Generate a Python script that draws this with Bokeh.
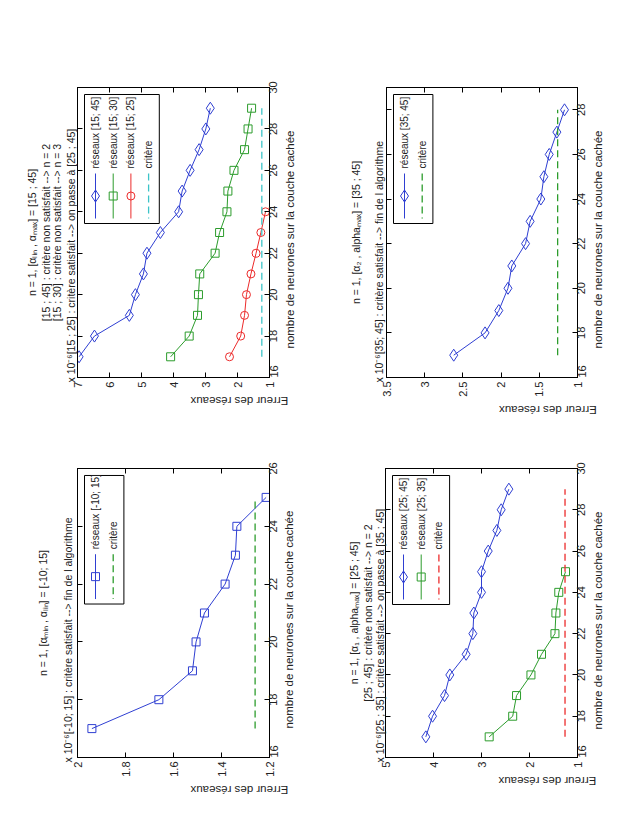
import math

from bokeh.plotting import figure
from bokeh.models import Range1d, LinearAxis, FixedTicker, Label, Title
from bokeh.layouts import column, row
from bokeh.embed import file_html
from bokeh.resources import INLINE

FONT = "Liberation Sans"
INK = "#222222"
BLUE = "#2f3fd2"
GREEN = "#2c9c2c"
RED = "#ec2b2b"
CYAN = "#3cc4c8"

# ---------------------------------------------------------------
# Network error (x 1e-6) against the number of hidden neurons
# ---------------------------------------------------------------
# [15 ; 45] search, n = 1
neur_15_45 = [17, 18, 19, 20, 21, 22, 23, 24, 25, 26, 27, 28, 29]
err_15_45 = [6.95, 6.47, 5.38, 5.19, 4.94, 4.83, 4.41, 3.84, 3.73, 3.48, 3.20, 2.99, 2.85]
neur_15_30 = [17, 18, 19, 20, 21, 22, 23, 24, 25, 26, 27, 28, 29]
err_15_30 = [4.09, 3.51, 3.25, 3.22, 3.18, 2.70, 2.56, 2.33, 2.30, 2.11, 1.78, 1.67, 1.56]
neur_15_25 = [17, 18, 19, 20, 21, 22, 23, 24]
err_15_25 = [2.25, 1.90, 1.78, 1.72, 1.58, 1.42, 1.27, 1.125]
crit_neur_a = [17, 29]
crit_err_a = [1.24, 1.24]

# [35 ; 45] search
neur_35_45 = [17, 18, 19, 20, 21, 22, 23, 24, 25, 26, 27, 28]
err_35_45 = [2.62, 2.21, 2.03, 1.91, 1.86, 1.68, 1.62, 1.48, 1.44, 1.37, 1.27, 1.17]
crit_neur_b = [17, 28]
crit_err_b = [1.26, 1.26]

# [-10 ; 15] search
neur_m10_15 = [17, 18, 19, 20, 21, 22, 23, 24, 25]
err_m10_15 = [1.94, 1.661, 1.521, 1.506, 1.471, 1.385, 1.342, 1.336, 1.214]
crit_neur_c = [17, 25]
crit_err_c = [1.26, 1.26]

# [25 ; 45] search
neur_25_45 = [17, 18, 19, 20, 21, 22, 23, 24, 25, 26, 27, 28, 29]
err_25_45 = [4.16, 4.02, 3.77, 3.66, 3.32, 3.18, 3.16, 3.00, 3.00, 2.86, 2.68, 2.59, 2.43]
neur_25_35 = [17, 18, 19, 20, 21, 22, 23, 24, 25]
err_25_35 = [2.84, 2.35, 2.27, 1.97, 1.75, 1.47, 1.45, 1.39, 1.25]
crit_neur_d = [17, 29]
crit_err_d = [1.26, 1.26]

# tick values and their printed labels
err_ticks_a = [1, 2, 3, 4, 5, 6, 7]
err_labels_a = ["1", "2", "3", "4", "5", "6", "7"]
neur_ticks_a = [16, 18, 20, 22, 24, 26, 28, 30]
neur_labels_a = ["16", "18", "20", "22", "24", "26", "28", "30"]

err_ticks_b = [1, 1.5, 2, 2.5, 3, 3.5]
err_labels_b = ["1", "1.5", "2", "2.5", "3", "3.5"]
neur_ticks_b = [16, 18, 20, 22, 24, 26, 28]
neur_labels_b = ["16", "18", "20", "22", "24", "26", "28"]

err_ticks_c = [1.2, 1.4, 1.6, 1.8, 2]
err_labels_c = ["1.2", "1.4", "1.6", "1.8", "2"]
neur_ticks_c = [16, 18, 20, 22, 24, 26]
neur_labels_c = ["16", "18", "20", "22", "24", "26"]

err_ticks_d = [1, 2, 3, 4, 5]
err_labels_d = ["1", "2", "3", "4", "5"]
neur_ticks_d = [16, 18, 20, 22, 24, 26, 28, 30]
neur_labels_d = ["16", "18", "20", "22", "24", "26", "28", "30"]

ERR_LABEL = "Erreur des réseaux"
NEUR_LABEL = "nombre de neurones sur la couche cachée"
EXPONENT = "x 10⁻⁶"

# The sheet is laid out sideways: the error axis runs right-to-left along the
# bottom, the neuron axis runs bottom-to-top on the right, and every text is
# turned a quarter turn.
Q = math.pi / 2


def tick_axis(ax, ticks, labels):
    ax.ticker = FixedTicker(ticks=ticks)
    ax.major_tick_in = 5
    ax.major_tick_out = 0
    ax.minor_tick_in = 0
    ax.minor_tick_out = 0
    ax.axis_line_color = "black"
    ax.major_tick_line_color = "black"
    ax.major_label_orientation = Q
    ax.major_label_text_font = FONT
    ax.major_label_text_font_size = "11px"
    if labels is None:
        # tick marks only
        ax.major_label_overrides = {t: "" for t in ticks}
        ax.major_label_text_color = None
        ax.major_label_standoff = 0
    else:
        ax.major_label_overrides = {t: s for t, s in zip(ticks, labels)}
        ax.major_label_text_color = INK
        ax.major_label_standoff = 4


def text_axis(values, texts, angle, standoff, size):
    # an axis without line or marks that only carries turned texts
    ax = LinearAxis(ticker=FixedTicker(ticks=values))
    ax.major_label_overrides = {v: t for v, t in zip(values, texts)}
    ax.major_label_orientation = angle
    ax.major_label_standoff = standoff
    ax.major_label_text_font = FONT
    ax.major_label_text_font_size = size
    ax.major_label_text_color = INK
    ax.axis_line_color = None
    ax.major_tick_line_color = None
    ax.minor_tick_line_color = None
    ax.major_tick_in = 0
    ax.major_tick_out = 0
    ax.minor_tick_in = 0
    ax.minor_tick_out = 0
    return ax


def make_panel(cfg):
    fw, fh = cfg["frame"]
    ml, mt = cfg["margin_left"], cfg["margin_top"]
    mr, mb = cfg["margin_right"], cfg["margin_bottom"]
    p = figure(
        width=ml + fw + mr, height=mt + fh + mb,
        x_range=Range1d(*cfg["err_range"]), y_range=Range1d(*cfg["neur_range"]),
        y_axis_location="right", x_axis_location="below",
        output_backend="svg", toolbar_location=None,
        min_border_left=ml, min_border_right=mr,
        min_border_top=mt, min_border_bottom=mb,
    )
    p.outline_line_color = "black"
    p.outline_line_width = 1
    p.grid.visible = False
    p.background_fill_color = "white"
    p.border_fill_color = "white"

    err_t, err_l = cfg["err_ticks"]
    neur_t, neur_l = cfg["neur_ticks"]
    x0, x1 = cfg["err_range"]
    y0, y1 = cfg["neur_range"]
    per_px_y = (y1 - y0) / fh

    def at(dx, dy):
        # offset in pixels from the frame's top-left corner -> data coords
        return x0 + dx * (x1 - x0) / fw, y1 - dy * per_px_y

    tick_axis(p.xaxis[0], err_t, err_l)
    tick_axis(p.yaxis[0], neur_t, None)

    top = LinearAxis()
    tick_axis(top, err_t, None)
    p.add_layout(top, "above")
    left = LinearAxis()
    tick_axis(left, neur_t, None)
    p.add_layout(left, "left")

    # neuron tick numbers: turned texts start at their anchor, so each anchor
    # sits half a label length below its tick (never below the axis start)
    half = 6.1 * per_px_y
    anchors = [max(t - half, y0) for t in neur_t]
    p.add_layout(text_axis(anchors, neur_l, Q, 4, "11px"), "right")
    # neuron caption, reading upward from its anchor
    _, cy = at(0, 261)
    p.add_layout(text_axis([cy], [NEUR_LABEL], Q, 5, "11.5px"), "right")
    # error caption, upside down
    cx, _ = at(fw / 2 + 17, 0)
    p.add_layout(text_axis([cx], [ERR_LABEL], math.pi, 10, "11.5px"), "below")

    # title lines stacked outward from the frame's left edge
    lines = cfg["title"]
    gaps = cfg["title_gaps"]
    for i in range(len(lines) - 1, -1, -1):
        s = lines[i]
        align = "center"
        offset = 0
        if i == len(lines) - 1:
            s = EXPONENT + s
            align = "left"
            offset = -5
        p.add_layout(Title(text=s, align=align, offset=offset, standoff=gaps[i],
                           text_font=FONT, text_font_size="10.5px",
                           text_font_style="normal", text_color=INK), "left")

    # data series
    for s in cfg["series"]:
        p.line(s["err"], s["neur"], line_color=s["color"], line_width=1)
        p.scatter(s["err"], s["neur"], marker=s["marker"], size=s["size"],
                  line_color=s["color"], fill_color=None, line_width=1)
    cn, ce, cc = cfg["crit"]
    p.line(ce, cn, line_color=cc, line_width=1.3, line_dash="7 4")

    # legend box, entries stacked left to right
    n = len(cfg["series"]) + 1
    bx0, by0 = at(7, 7)
    bx1, by1 = at(7 + 17.7 * n + 4, 136)
    p.quad(left=[bx0], right=[bx1], top=[by0], bottom=[by1],
           fill_color="white", line_color="black", line_width=1)
    entries = [(s["color"], s["marker"], s["size"], s["label"], None) for s in cfg["series"]]
    entries.append((cc, None, 0, "critère", "7 4"))
    for i, (col, mk, sz, lab, dash) in enumerate(entries):
        ex = 18 + 17.7 * i
        lx, ly0 = at(ex, 86)
        _, ly1 = at(ex, 131)
        if dash:
            p.line([lx, lx], [ly0, ly1], line_color=col, line_width=1.3, line_dash=dash)
        else:
            p.line([lx, lx], [ly0, ly1], line_color=col, line_width=1)
            _, my = at(ex, 108.5)
            p.scatter([lx], [my], marker=mk, size=sz, line_color=col,
                      fill_color=None, line_width=1)
        tx, ty = at(ex, 81)
        p.add_layout(Label(x=tx, y=ty, text=lab, angle=Q, text_align="left",
                           text_baseline="middle", text_font=FONT,
                           text_font_size="10px", text_color=INK))
    return p


p1 = make_panel(dict(
    frame=(192, 290), margin_left=77, margin_right=50, margin_top=87, margin_bottom=50,
    err_range=(7, 1), neur_range=(16, 30),
    err_ticks=(err_ticks_a, err_labels_a), neur_ticks=(neur_ticks_a, neur_labels_a),
    series=[
        dict(err=err_15_45, neur=neur_15_45, color=BLUE, marker="diamond", size=12, label="réseaux [15; 45]"),
        dict(err=err_15_30, neur=neur_15_30, color=GREEN, marker="square", size=8, label="réseaux [15; 30]"),
        dict(err=err_15_25, neur=neur_15_25, color=RED, marker="circle", size=8, label="réseaux [15; 25]"),
    ],
    crit=(crit_neur_a, crit_err_a, CYAN),
    title=["n = 1, [αₗᵢₙ , αₘₐₓ] = [15 ; 45]",
           "[15 ; 45] : critère non satisfait --> n = 2",
           "[15 ; 30] : critère non satisfait --> n = 3",
           "[15 ; 25] : critère satisfait --> on passe à [25 ; 45]"],
    title_gaps=[3, -3, -3, 2],
))

p2 = make_panel(dict(
    frame=(191, 290), margin_left=67, margin_right=50, margin_top=87, margin_bottom=50,
    err_range=(3.5, 1), neur_range=(16, 29),
    err_ticks=(err_ticks_b, err_labels_b), neur_ticks=(neur_ticks_b, neur_labels_b),
    series=[
        dict(err=err_35_45, neur=neur_35_45, color=BLUE, marker="diamond", size=12, label="réseaux [35; 45]"),
    ],
    crit=(crit_neur_b, crit_err_b, GREEN),
    title=["n = 1, [α₂ , alphaₘₐₓ] = [35 ; 45]",
           "[35; 45] : critère satisfait  --> fin de l algorithme"],
    title_gaps=[13, 4],
))

p3 = make_panel(dict(
    frame=(192, 290), margin_left=77, margin_right=50, margin_top=40, margin_bottom=50,
    err_range=(2, 1.2), neur_range=(16, 26),
    err_ticks=(err_ticks_c, err_labels_c), neur_ticks=(neur_ticks_c, neur_labels_c),
    series=[
        dict(err=err_m10_15, neur=neur_m10_15, color=BLUE, marker="square", size=8, label="réseaux [-10; 15]"),
    ],
    crit=(crit_neur_c, crit_err_c, GREEN),
    title=["n = 1, [αₘᵢₙ , αₗᵢₙ] = [-10; 15]",
           "[-10; 15] : critère satisfait  --> fin de l algorithme"],
    title_gaps=[13, 8],
))

p4 = make_panel(dict(
    frame=(192, 289), margin_left=66, margin_right=50, margin_top=41, margin_bottom=50,
    err_range=(5, 1), neur_range=(16, 30),
    err_ticks=(err_ticks_d, err_labels_d), neur_ticks=(neur_ticks_d, neur_labels_d),
    series=[
        dict(err=err_25_45, neur=neur_25_45, color=BLUE, marker="diamond", size=12, label="réseaux [25; 45]"),
        dict(err=err_25_35, neur=neur_25_35, color=GREEN, marker="square", size=8, label="réseaux [25; 35]"),
    ],
    crit=(crit_neur_d, crit_err_d, RED),
    title=["n = 1, [α₁ , alphaₘₐₓ] = [25 ; 45]",
           "[25 ; 45] : critère non satisfait --> n = 2",
           "[25 ; 35] : critère satisfait --> on passe à [35 ; 45]"],
    title_gaps=[3, -3, -1],
))

page = column(row(p1, p2, spacing=0), row(p3, p4, spacing=0), spacing=0)

open("out.html", "w").write(file_html(page, INLINE))
